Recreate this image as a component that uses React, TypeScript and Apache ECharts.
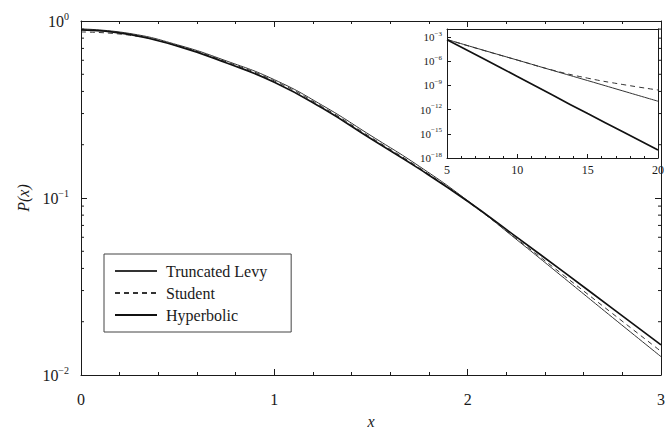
import React, { useEffect, useRef } from "react";
import * as echarts from "echarts";

// Main panel: x grid and P(x) for each model
const mainX = [0, 0.25, 0.5, 0.75, 1, 1.25, 1.5, 1.75, 2, 2.25, 2.5, 2.75, 3];
const levyMain = [0.902, 0.851, 0.733, 0.596, 0.466, 0.333, 0.225, 0.151, 0.0966, 0.0586, 0.0352, 0.0211, 0.0127];
const studentMain = [0.867, 0.832, 0.724, 0.589, 0.459, 0.327, 0.22, 0.148, 0.0955, 0.0592, 0.0363, 0.0222, 0.0136];
const hyperMain = [0.891, 0.841, 0.721, 0.581, 0.451, 0.321, 0.216, 0.146, 0.0959, 0.0605, 0.038, 0.0237, 0.0148];

// Inset panel: tails
const insetX = [5, 7.5, 10, 12.5, 15, 17.5, 20];
const levyInset = [5e-4, 2.6e-5, 1.4e-6, 7.4e-8, 4e-9, 2.1e-10, 1.1e-11];
const studentInset = [5e-4, 2.5e-5, 1.4e-6, 8e-8, 8e-9, 1.3e-9, 2.7e-10];
const hyperInset = [4.5e-4, 2.5e-6, 1.3e-8, 6.3e-11, 3.2e-13, 1.8e-15, 1e-17];

// Log minor tick positions on main y axis
const mainMinorY = [0.02, 0.03, 0.04, 0.05, 0.06, 0.07, 0.08, 0.09, 0.2, 0.3, 0.4, 0.5, 0.6, 0.7, 0.8, 0.9];

const names = ["Truncated Levy", "Student", "Hyperbolic"];

const FONT = "'Liberation Serif', 'DejaVu Serif', serif";
const INK = "#1a1a1a";

function zip(xs: number[], ys: number[]) {
  return xs.map((x, i) => [x, ys[i]]);
}

function powLabel(v: number) {
  const e = Math.round(Math.log10(v));
  const s = e < 0 ? "\u2212" + Math.abs(e) : String(e);
  return `{b|10}{s|${s}}`;
}

export default function App() {
  const ref = useRef<HTMLDivElement>(null);
  useEffect(() => {
    if (!ref.current) return;
    const chart = echarts.init(ref.current, undefined, { renderer: "svg" });
    const axisLine = { show: true, onZero: false, lineStyle: { color: INK, width: 1 } };
    const richMain = {
      b: { fontSize: 16, fontFamily: FONT, color: INK, lineHeight: 20 },
      s: { fontSize: 10, fontFamily: FONT, color: INK, verticalAlign: "top" as const, lineHeight: 20 },
    };
    const richInset = {
      b: { fontSize: 11, fontFamily: FONT, color: INK, lineHeight: 14 },
      s: { fontSize: 7, fontFamily: FONT, color: INK, verticalAlign: "top" as const, lineHeight: 14 },
    };
    const thin = { color: "#333", width: 1 };
    const dashed = { color: "#333", width: 1, type: [5, 4] as any };
    const thick = { color: "#111", width: 1.7 };
    const line = (name: string, data: number[][], ls: any, xi: number, yi: number) => ({
      name,
      type: "line",
      data,
      xAxisIndex: xi,
      yAxisIndex: yi,
      symbol: "none",
      smooth: true,
      lineStyle: ls,
      itemStyle: { color: ls.color },
      silent: true,
    });
    chart.setOption({
      animation: false,
      backgroundColor: "#fff",
      grid: [
        { left: 81, top: 21, width: 581, height: 365 },
        { left: 447, top: 29, width: 211, height: 129 },
      ],
      legend: {
        data: names,
        orient: "vertical",
        left: 104,
        top: 254,
        borderColor: "#444",
        borderWidth: 1,
        padding: [9, 24, 9, 10],
        itemGap: 6,
        itemWidth: 42,
        itemHeight: 14,
        itemStyle: { opacity: 0 },
        textStyle: { fontFamily: FONT, fontSize: 16, color: INK, padding: [0, 0, 0, 4] },
        selectedMode: false,
      },
      xAxis: [
        {
          gridIndex: 0, type: "value", min: 0, max: 3, interval: 1,
          axisLine, axisTick: { inside: true, length: 6, lineStyle: { color: INK } },
          minorTick: { show: true, splitNumber: 5, length: 3, lineStyle: { color: INK } },
          splitLine: { show: false },
          axisLabel: { fontFamily: FONT, fontSize: 16, color: INK, margin: 16 },
          name: "x", nameLocation: "middle", nameGap: 38,
          nameTextStyle: { fontFamily: FONT, fontSize: 16, fontStyle: "italic", color: INK },
        },
        {
          gridIndex: 0, type: "value", min: 0, max: 3, interval: 1, position: "top",
          axisLine, axisTick: { inside: true, length: 6, lineStyle: { color: INK } },
          minorTick: { show: true, splitNumber: 5, length: 3, lineStyle: { color: INK } },
          splitLine: { show: false }, axisLabel: { show: false },
        },
        {
          gridIndex: 1, type: "value", min: 5, max: 20, interval: 5,
          axisLine, axisTick: { inside: true, length: 4, lineStyle: { color: INK } },
          minorTick: { show: true, splitNumber: 5, length: 2, lineStyle: { color: INK } },
          splitLine: { show: false },
          axisLabel: { fontFamily: FONT, fontSize: 12, color: INK, margin: 6 },
        },
        {
          gridIndex: 1, type: "value", min: 5, max: 20, interval: 5, position: "top",
          axisLine, axisTick: { show: false }, splitLine: { show: false }, axisLabel: { show: false },
        },
      ],
      yAxis: [
        {
          gridIndex: 0, type: "log", logBase: 10, min: 0.01, max: 1,
          axisLine, axisTick: { inside: true, length: 6, lineStyle: { color: INK } },
          splitLine: { show: false },
          axisLabel: { formatter: powLabel, rich: richMain, margin: 12 },
          name: "P(x)", nameLocation: "middle", nameGap: 48, nameRotate: 90,
          nameTextStyle: { fontFamily: FONT, fontSize: 16, fontStyle: "italic", color: INK },
        },
        {
          gridIndex: 0, type: "log", logBase: 10, min: 0.01, max: 1, position: "right",
          axisLine, axisTick: { inside: true, length: 6, lineStyle: { color: INK } },
          splitLine: { show: false }, axisLabel: { show: false },
        },
        {
          gridIndex: 1, type: "log", logBase: 10, min: 1e-18, max: 1e-2, interval: 3,
          axisLine, axisTick: { inside: true, length: 4, lineStyle: { color: INK } },
          splitLine: { show: false },
          axisLabel: {
            formatter: (v: number) => {
              const e = Math.round(Math.log10(v));
              return e % 3 === 0 ? powLabel(v) : "";
            },
            rich: richInset, margin: 5,
          },
        },
        {
          gridIndex: 1, type: "log", logBase: 10, min: 1e-18, max: 1e-2, position: "right",
          axisLine, axisTick: { show: false }, splitLine: { show: false }, axisLabel: { show: false },
        },
      ],
      series: [
        line(names[0], zip(mainX, levyMain), thin, 0, 0),
        line(names[1], zip(mainX, studentMain), dashed, 0, 0),
        line(names[2], zip(mainX, hyperMain), thick, 0, 0),
        line(names[0], zip(insetX, levyInset), thin, 2, 2),
        line(names[1], zip(insetX, studentInset), dashed, 2, 2),
        line(names[2], zip(insetX, hyperInset), thick, 2, 2),
        {
          name: "minorY",
          type: "custom",
          xAxisIndex: 0,
          yAxisIndex: 0,
          silent: true,
          clip: false,
          data: mainMinorY.map((v) => [0, v]),
          renderItem: (params: any, api: any) => {
            const v = api.value(1);
            const p = api.coord([0, v]);
            const q = api.coord([3, v]);
            const st = { stroke: INK, lineWidth: 1 };
            return {
              type: "group",
              children: [
                { type: "line", shape: { x1: p[0], y1: p[1], x2: p[0] + 3, y2: p[1] }, style: st },
                { type: "line", shape: { x1: q[0] - 3, y1: q[1], x2: q[0], y2: q[1] }, style: st },
              ],
            };
          },
        },
      ],
    });
    return () => chart.dispose();
  }, []);
  return <div ref={ref} style={{ position: "fixed", left: 0, top: 0, width: 668, height: 434 }} />;
}
